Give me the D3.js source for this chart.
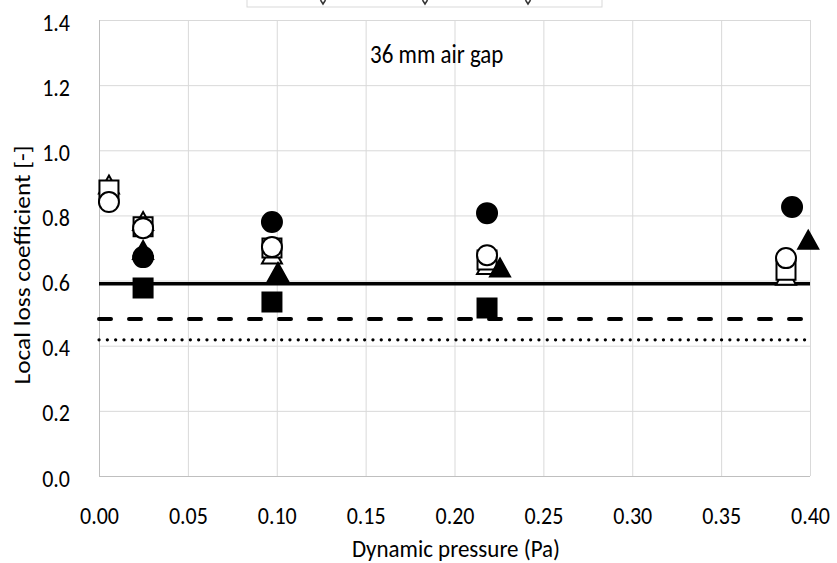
<!DOCTYPE html>
<html>
<head>
<meta charset="utf-8">
<script src="https://cdn.jsdelivr.net/npm/d3@7"></script>
<style>
	body { margin:0; background:#fff; }
	svg text { font-family: Carlito, Lato, "Liberation Sans", sans-serif; fill:#000; }
</style>
</head>
<body>
<div class="chart"><svg></svg></div>
<script>
(function() {

	// DATA
	var xTicks = [0, 0.05, 0.10, 0.15, 0.20, 0.25, 0.30, 0.35, 0.40];
	var yTicks = [0, 0.2, 0.4, 0.6, 0.8, 1.0, 1.2, 1.4];

	var openTriangleX = [0.0056, 0.0248, 0.0973, 0.2183, 0.3865];
	var openTriangleY = [0.895, 0.783, 0.680, 0.648, 0.615];
	var openSquareX = [0.0056, 0.0248, 0.0973, 0.2183, 0.3865];
	var openSquareY = [0.878, 0.765, 0.700, 0.663, 0.632];
	var openCircleX = [0.0056, 0.0248, 0.0973, 0.2183, 0.3865];
	var openCircleY = [0.841, 0.761, 0.703, 0.678, 0.669];
	var filledTriangleX = [0.0248, 0.1007, 0.2256, 0.3990];
	var filledTriangleY = [0.694, 0.626, 0.640, 0.725];
	var filledCircleX = [0.0248, 0.0973, 0.2183, 0.3899];
	var filledCircleY = [0.672, 0.780, 0.807, 0.826];
	var filledSquareX = [0.0248, 0.0973, 0.2183];
	var filledSquareY = [0.577, 0.534, 0.516];

	var solidLevel = 0.59;
	var dashedLevel = 0.482;
	var dottedLevel = 0.418;

	var annotation = '36 mm air gap';
	var xTitle = 'Dynamic pressure (Pa)';
	var yTitle = 'Local loss coefficient [-]';

	// LAYOUT
	var W = 837, H = 563;
	var margin = { top:20, left:99, right:27, bottom:87 };
	var width = W - margin.left - margin.right;
	var height = H - margin.top - margin.bottom;
	var stretch = 1.15; // the source text looks a bit tall for its width

	var svg = d3.select('svg').attr('width', W).attr('height', H);

	var x = d3.scaleLinear().domain([0, 0.40]).range([0, width]);
	var y = d3.scaleLinear().domain([0, 1.4]).range([height, 0]);

	// clipped legend box at the very top
	var leg = svg.append('g').attr('class', 'legend-stub');
	leg.append('rect')
		.attr('x', 247).attr('y', -10)
		.attr('width', 355).attr('height', 17)
		.attr('fill', '#fff')
		.attr('stroke', '#d9d9d9');
	leg.selectAll('path')
		.data([323, 425, 528])
		.enter().append('path')
		.attr('d', function(d) { return 'M' + (d - 2.5) + ',0 L' + d + ',4 L' + (d + 2.5) + ',0'; })
		.attr('fill', 'none')
		.attr('stroke', '#333')
		.attr('stroke-width', 1.5);

	var g = svg.append('g')
		.attr('transform', 'translate(' + margin.left + ',' + margin.top + ')');

	// GRID
	g.append('g').attr('class', 'grid--y')
		.selectAll('line').data(yTicks).enter().append('line')
		.attr('x1', 0).attr('x2', width)
		.attr('y1', function(d) { return y(d) + 0.5; })
		.attr('y2', function(d) { return y(d) + 0.5; })
		.attr('stroke', function(d) { return d === 0 ? '#bfbfbf' : '#d9d9d9'; })
		.attr('stroke-width', 1);

	g.append('g').attr('class', 'grid--x')
		.selectAll('line').data(xTicks).enter().append('line')
		.attr('x1', function(d) { return x(d) + 0.5; })
		.attr('x2', function(d) { return x(d) + 0.5; })
		.attr('y1', 0).attr('y2', height)
		.attr('stroke', function(d) { return d === 0 ? '#bfbfbf' : '#d9d9d9'; })
		.attr('stroke-width', 1);

	// AXES (labels only)
	var xAxis = g.append('g')
		.attr('transform', 'translate(0,' + height + ')')
		.call(d3.axisBottom(x).tickValues(xTicks).tickFormat(d3.format('.2f')).tickSize(0));
	xAxis.select('.domain').remove();
	xAxis.selectAll('text')
		.attr('y', 0).attr('dy', '0.36em')
		.attr('transform', 'translate(0,39) scale(1,' + stretch + ')')
		.style('font-size', '22px');

	var yAxis = g.append('g')
		.call(d3.axisLeft(y).tickValues(yTicks).tickFormat(d3.format('.1f')).tickSize(0));
	yAxis.select('.domain').remove();
	yAxis.selectAll('text')
		.attr('x', 0).attr('dy', '0.36em')
		.attr('transform', 'translate(-29,1) scale(1,' + stretch + ')')
		.style('font-size', '22px');

	// REFERENCE LINES
	function hline(level, dash, w, cap) {
		g.append('line')
			.attr('x1', x(0)).attr('x2', x(0.40))
			.attr('y1', y(level)).attr('y2', y(level))
			.attr('stroke', '#000')
			.attr('stroke-width', w)
			.attr('stroke-linecap', cap)
			.attr('stroke-dasharray', dash);
	}
	hline(solidLevel, null, 3.5, 'butt');
	hline(dashedLevel, '12,18', 4, 'round');
	hline(dottedLevel, '0.1,8.2', 3.2, 'round');

	// MARKERS
	function zip(xs, ys) { return xs.map(function(v, i) { return [v, ys[i]]; }); }

	var sq = 19, tw = 20, th = 18, r = 10;
	var shapes = {
		triangle: 'M0,' + (-th / 2) + 'L' + (tw / 2) + ',' + (th / 2) + 'L' + (-tw / 2) + ',' + (th / 2) + 'Z',
		square: 'M' + (-sq / 2) + ',' + (-sq / 2) + 'h' + sq + 'v' + sq + 'h' + (-sq) + 'Z',
		circle: d3.path()
	};
	shapes.circle.arc(0, 0, r, 0, 2 * Math.PI);
	shapes.circle = shapes.circle.toString();

	var series = [
		{ pts: zip(filledSquareX, filledSquareY), shape: 'square', fill: '#000' },
		{ pts: zip(openTriangleX, openTriangleY), shape: 'triangle', fill: '#fff' },
		{ pts: zip(openSquareX, openSquareY), shape: 'square', fill: '#fff' },
		{ pts: zip(openCircleX, openCircleY), shape: 'circle', fill: '#fff' },
		{ pts: zip(filledTriangleX, filledTriangleY), shape: 'triangle', fill: '#000' },
		{ pts: zip(filledCircleX, filledCircleY), shape: 'circle', fill: '#000' }
	];

	series.forEach(function(s) {
		g.append('g').selectAll('path')
			.data(s.pts).enter().append('path')
			.attr('transform', function(d) { return 'translate(' + x(d[0]) + ',' + y(d[1]) + ')'; })
			.attr('d', shapes[s.shape])
			.attr('fill', s.fill)
			.attr('stroke', '#000')
			.attr('stroke-width', 2);
	});

	// TEXTS
	g.append('text')
		.attr('dy', '0.36em')
		.attr('transform', 'translate(' + x(0.19) + ',33) scale(1,' + stretch + ')')
		.attr('text-anchor', 'middle')
		.style('font-size', '23px')
		.text(annotation);

	svg.append('text')
		.attr('dy', '0.36em')
		.attr('transform', 'translate(456,548) scale(1,1.1)')
		.attr('text-anchor', 'middle')
		.style('font-size', '23px')
		.text(xTitle);

	svg.append('text')
		.attr('dy', '0.36em')
		.attr('transform', 'translate(22,265) scale(1,1.1) rotate(-90)')
		.attr('text-anchor', 'middle')
		.style('font-size', '23px')
		.text(yTitle);

})()
</script>
</body>
</html>
